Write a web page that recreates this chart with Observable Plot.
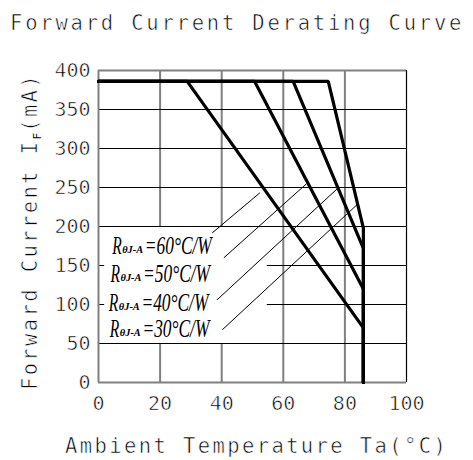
<!DOCTYPE html>
<html><head><meta charset="utf-8">
<script src="https://cdn.jsdelivr.net/npm/d3@7"></script>
<script src="https://cdn.jsdelivr.net/npm/@observablehq/plot@0.6"></script>
<style>
body{margin:0;background:#fff}
#chart{width:473px;height:460px}
</style></head><body><div id="chart"></div>
<script>
// ---- data ----
const resistances = [60, 50, 40, 30];          // RθJ-A, °C/W
const maxCurrent = 386;                         // mA (flat part)
const kneeTemps = [28.8, 50.7, 63.2, 74.6];     // °C where derating starts
const endTemp = 86;                             // °C cut-off
const endCurrents = [70, 120, 172, 198];        // mA at cut-off
const xTicks = [0, 20, 40, 60, 80, 100];
const yTicks = [0, 50, 100, 150, 200, 250, 300, 350, 400];
const fullGridY = [50, 200, 250, 300, 350];
const partialGridY = [100, 150];
const innerGridX = [20, 40, 60, 80];
// annotation geometry (data units)
const boxRight = 54.8;
const leaderX1 = [36.9, 40.7, 38.5, 40.2];
const leaderY1 = [191.7, 159.9, 106.0, 67.6];
const leaderX2 = [52.4, 67.5, 77.5, 84.0];
const leaderY2 = [243.2, 254.7, 248.3, 228.2];
const labelX = [4.45, 3.9, 3.35, 3.67];
const labelY = [165, 128.6, 92.3, 58.1];

// ---- derived tables ----
const curves = resistances.flatMap((r, i) => [
  {r, t: 0, i: maxCurrent},
  {r, t: kneeTemps[i], i: maxCurrent},
  {r, t: endTemp, i: endCurrents[i]},
  {r, t: endTemp, i: 0}
]);
const leaders = resistances.map((r, k) => ({r, x1: leaderX1[k], y1: leaderY1[k], x2: leaderX2[k], y2: leaderY2[k]}));
const labels = resistances.map((r, k) => ({r, x: labelX[k], y: labelY[k], rest: `=${r}°C/W`}));

const mono = "'DejaVu Sans Mono', monospace";
const serif = "'Liberation Serif', 'DejaVu Serif', serif";

const chart = Plot.plot({
  width: 473, height: 460,
  marginLeft: 98, marginRight: 67, marginTop: 70, marginBottom: 78,
  x: {domain: [0, 100], axis: null},
  y: {domain: [0, 400], axis: null},
  style: {background: "#fff", color: "#000"},
  marks: [
    Plot.ruleX(innerGridX, {stroke: "#808080", strokeWidth: 2}),
    Plot.rect([0], {x1: 0, x2: boxRight, y1: 50, y2: 200, fill: "#fff"}),
    Plot.ruleY(fullGridY, {stroke: "#000", strokeWidth: 1}),
    Plot.ruleY(partialGridY, {x1: boxRight, x2: 100, stroke: "#000", strokeWidth: 1}),
    Plot.ruleY(partialGridY, {x1: 0, x2: 2, stroke: "#000", strokeWidth: 1}),
    Plot.ruleX([0], {stroke: "#808080", strokeWidth: 2}),
    Plot.ruleY([0, 400], {stroke: "#808080", strokeWidth: 2}),
    Plot.ruleX([100], {stroke: "#000", strokeWidth: 1.2}),
    Plot.line(curves, {x: "t", y: "i", z: "r", stroke: "#000", strokeWidth: 3.2, strokeLinejoin: "miter"}),
    Plot.link(leaders, {x1: "x1", y1: "y1", x2: "x2", y2: "y2", stroke: "#000", strokeWidth: 1}),
    Plot.text(labels, {x: "x", y: "y", text: () => "R", textAnchor: "start", lineAnchor: "bottom", fontSize: 26, fontFamily: serif, fontStyle: "italic", fill: "#000", className: "lblR"}),
    Plot.text(labels, {x: "x", y: "y", text: () => "θJ-A", dx: 10, dy: -1, textAnchor: "start", lineAnchor: "bottom", fontSize: 10, fontFamily: serif, fontStyle: "italic", fontWeight: "bold", fill: "#000", className: "lblSub"}),
    Plot.text(labels, {x: "x", y: "y", text: "rest", dx: 32.6, textAnchor: "start", lineAnchor: "bottom", fontSize: 26, fontFamily: serif, fontStyle: "italic", fill: "#000", className: "lblRest"}),
    Plot.axisX(xTicks, {tickSize: 0, tickPadding: 13, fontSize: 20, fontFamily: mono, label: null, className: "tickTxt"}),
    Plot.axisY(yTicks, {tickSize: 0, tickPadding: 8, fontSize: 20, fontFamily: mono, label: null, className: "tickTxt"})
  ]
});
document.getElementById("chart").appendChild(chart);

const svg = d3.select(chart);
svg.selectAll(".lblR text").attr("textLength", 9.5).attr("lengthAdjust", "spacingAndGlyphs");
svg.selectAll(".lblSub text").attr("textLength", 21).attr("lengthAdjust", "spacingAndGlyphs");
svg.selectAll(".lblRest text").attr("textLength", 67).attr("lengthAdjust", "spacingAndGlyphs");

// titles
const addText = (x, y, str, size, spacing) => svg.append("text")
  .attr("x", x).attr("y", y).attr("text-anchor", "start")
  .attr("font-family", mono).attr("font-size", size)
  .attr("letter-spacing", spacing).attr("fill", "#000")
  .attr("stroke", "#fff").attr("stroke-width", 0.6).text(str);
addText(10, 29.5, "Forward Current Derating Curve", 20.5, 2.8);
addText(65, 452.5, "Ambient Temperature Ta(°C)", 20.5, 2.4);
const yl = svg.append("text")
  .attr("transform", "translate(36.5,231.5) rotate(-90)")
  .attr("text-anchor", "middle")
  .attr("font-family", mono).attr("font-size", 20.5)
  .attr("letter-spacing", 2.4).attr("fill", "#000");
yl.append("tspan").attr("stroke", "#fff").attr("stroke-width", 0.6).text("Forward Current I");
yl.append("tspan").attr("font-size", 11).attr("dy", 4).attr("letter-spacing", 1).text("F");
yl.append("tspan").attr("dy", -4).attr("stroke", "#fff").attr("stroke-width", 0.6).text("(mA)");

svg.selectAll(".tickTxt text").attr("stroke", "#fff").attr("stroke-width", 0.6);
</script></body></html>
